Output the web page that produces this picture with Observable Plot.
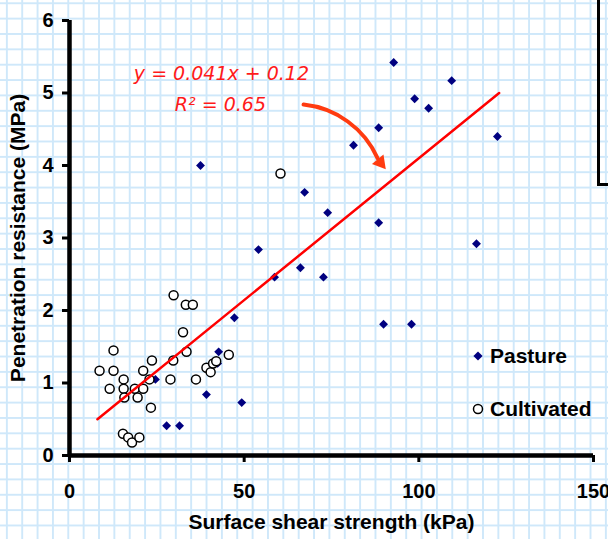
<!DOCTYPE html>
<html>
<head>
<meta charset="utf-8">
<script src="https://cdn.jsdelivr.net/npm/d3@7"></script>
<script src="https://cdn.jsdelivr.net/npm/@observablehq/plot@0.6"></script>
<style>
  html, body { margin: 0; padding: 0; }
  body {
    width: 608px; height: 539px; overflow: hidden;
    background-color: #ffffff;
    background-image:
      linear-gradient(to right, #cfe8fa 2px, transparent 2px),
      linear-gradient(to bottom, #cfe8fa 2px, transparent 2px);
    background-size: 15.36px 15.36px;
    background-position: 5.9px 2.3px;
  }
  #wrap { position: relative; width: 608px; height: 539px; }
  #chart { position: absolute; left: 0; top: 0; }
  #chart svg { display: block; }
  .legend { position: absolute; left: 0; top: 0; width: 608px; height: 539px; pointer-events: none;
            font-family: "Liberation Sans", Arial, sans-serif; font-weight: bold; font-size: 21px; color: #000; }
  .legend .row { position: absolute; white-space: nowrap; display: flex; align-items: center; height: 24px; line-height: 24px; }
  .legend svg { margin-right: 6px; display: block; }
  .sidebox { position: absolute; left: 597px; top: -5px; width: 20px; height: 188px; border-left: 3px solid #000; border-bottom: 3px solid #000; }
</style>
</head>
<body>
<div id="wrap">
  <div id="chart"></div>
  <div class="sidebox"></div>
  <div class="legend" id="legend"></div>
</div>
<script>
// Pasture (diamonds)
const pastureX = [92.8, 109.4, 98.8, 102.8, 88.5, 122.5, 81.3, 37.5, 67.3, 73.9, 88.5, 116.5, 54.1, 66.1, 58.7, 72.7, 47.2, 89.9, 97.9, 42.7, 42.4, 24.6, 39.2, 49.3, 27.8, 31.5];
const pastureY = [5.42, 5.17, 4.92, 4.79, 4.52, 4.40, 4.28, 4.00, 3.63, 3.35, 3.21, 2.92, 2.84, 2.59, 2.46, 2.46, 1.90, 1.81, 1.81, 1.43, 1.27, 1.05, 0.84, 0.73, 0.41, 0.41];
// Cultivated (open circles)
const cultX = [8.6, 12.6, 12.6, 11.5, 15.5, 15.5, 15.7, 18.7, 19.5, 21.1, 21.1, 23.6, 22.9, 23.3, 28.9, 29.7, 29.8, 33.3, 35.3, 32.5, 33.5, 36.2, 39.2, 40.4, 41.1, 42.0, 45.6, 15.3, 16.8, 17.9, 20.0, 60.4];
const cultY = [1.17, 1.45, 1.17, 0.92, 1.05, 0.92, 0.80, 0.92, 0.80, 0.92, 1.17, 1.31, 1.05, 0.66, 1.05, 1.31, 2.21, 2.08, 2.08, 1.70, 1.43, 1.05, 1.21, 1.15, 1.27, 1.30, 1.39, 0.30, 0.25, 0.18, 0.25, 3.89];
// Trend line as drawn
const trendX = [8, 123];
const trendY = [0.5, 5.0];
// Annotation
const annoText = ["y = 0.041x + 0.12", "R² = 0.65"];
const annoX = [43.5, 43.2];
const annoY = [5.27, 4.83];
// Arrow (shaft start, shaft end, head centre)
const arrowFrom = [67.0, 4.84];
const arrowTo = [88.2, 4.10];
const arrowHead = [89.0, 4.04];
// Axes
const xTicks = [0, 50, 100, 150];
const yTicks = [0, 1, 2, 3, 4, 5, 6];
const xTitle = "Surface shear strength (kPa)";
const yTitle = "Penetration resistance (MPa)";
const seriesNames = ["Pasture", "Cultivated"];

const pasture = pastureX.map((x, i) => ({x, y: pastureY[i]}));
const cultivated = cultX.map((x, i) => ({x, y: cultY[i]}));
const trend = trendX.map((x, i) => ({x, y: trendY[i]}));
const anno = annoText.map((t, i) => ({t, x: annoX[i], y: annoY[i]}));
const arrows = [{x1: arrowFrom[0], y1: arrowFrom[1], x2: arrowTo[0], y2: arrowTo[1]}];
const heads = [{x: arrowHead[0], y: arrowHead[1]}];

const chart = Plot.plot({
  width: 608,
  height: 539,
  marginLeft: 69,
  marginRight: 15,
  marginTop: 20,
  marginBottom: 84,
  x: {domain: [0, 150]},
  y: {domain: [0, 6]},
  style: {background: "transparent", fontFamily: "Liberation Sans, Arial, sans-serif", fontSize: "20px", fontWeight: "bold", color: "#000", overflow: "visible"},
  marks: [
    Plot.axisX({ticks: xTicks, tickSize: 7, tickPadding: 21, strokeWidth: 3, label: null, fontSize: 20, fontWeight: "bold"}),
    Plot.axisY({ticks: yTicks, tickFormat: d3.format("d"), tickSize: 7, tickPadding: 9, strokeWidth: 3, label: null, fontSize: 20, fontWeight: "bold"}),
    Plot.ruleY([0], {strokeWidth: 4.5, stroke: "#000"}),
    Plot.ruleX([0], {strokeWidth: 4.5, stroke: "#000"}),
    Plot.dot(pasture, {x: "x", y: "y", symbol: "diamond2", r: 4, fill: "#000080", stroke: "none"}),
    Plot.dot(cultivated, {x: "x", y: "y", r: 4.5, fill: "#ffffff", stroke: "#000", strokeWidth: 1.5}),
    Plot.line(trend, {x: "x", y: "y", stroke: "#ff0000", strokeWidth: 2.5}),
    Plot.arrow(arrows, {x1: "x1", y1: "y1", x2: "x2", y2: "y2", bend: 30, stroke: "#ff3b10", strokeWidth: 4, headLength: 0}),
    Plot.dot(heads, {x: "x", y: "y", symbol: "triangle", r: 5.5, rotate: 141, fill: "#ff3b10", stroke: "none"}),
    Plot.text(anno, {x: "x", y: "y", text: "t", fill: "#ff1a1a", fontSize: 19, fontStyle: "italic", fontWeight: "normal", fontFamily: "DejaVu Sans", letterSpacing: 2.3}),
    Plot.text([xTitle], {frameAnchor: "bottom", dy: 73, text: d => d, fontSize: 21, fontWeight: "bold"}),
    Plot.text([yTitle], {frameAnchor: "left", dx: -51, rotate: -90, textAnchor: "middle", text: d => d, fontSize: 21, fontWeight: "bold"})
  ]
});
document.getElementById("chart").appendChild(chart);

// Legend overlay
const legend = document.getElementById("legend");
const symbols = [
  '<svg width="12" height="12" viewBox="-6 -6 12 12"><path d="M0,-4.6L4.6,0L0,4.6L-4.6,0Z" fill="#000080"/></svg>',
  '<svg width="12" height="12" viewBox="-6 -6 12 12"><circle r="4.5" fill="#fff" stroke="#000" stroke-width="1.5"/></svg>'
];
const tops = [344, 397];
seriesNames.forEach((name, i) => {
  const row = document.createElement("div");
  row.className = "row";
  row.style.left = "472px";
  row.style.top = tops[i] + "px";
  row.innerHTML = symbols[i] + "<span>" + name + "</span>";
  legend.appendChild(row);
});
</script>
</body>
</html>
